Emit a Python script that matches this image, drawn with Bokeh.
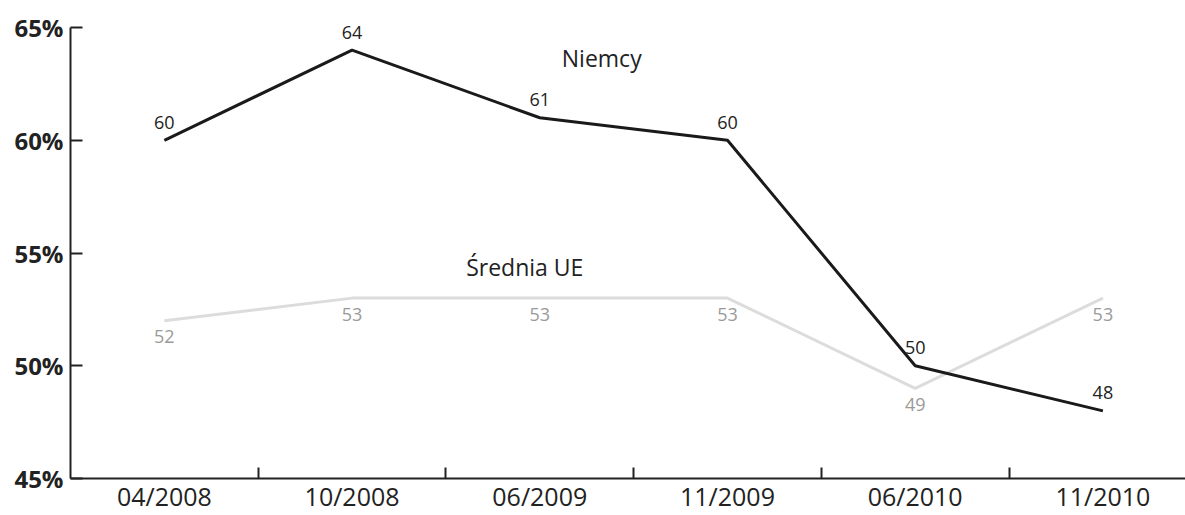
from bokeh.plotting import figure
from bokeh.models import ColumnDataSource, FixedTicker, Range1d, Label, LabelSet
from bokeh.core.properties import value
from bokeh.embed import file_html
from bokeh.resources import INLINE

categories = ["04/2008", "10/2008", "06/2009", "11/2009", "06/2010", "11/2010"]
niemcy = [60, 64, 61, 60, 50, 48]
srednia_ue = [52, 53, 53, 53, 49, 53]
y_ticks = [45, 50, 55, 60, 65]
y_tick_labels = ["45%", "50%", "55%", "60%", "65%"]

xs = list(range(len(categories)))
FONT = "Open Sans"

p = figure(width=1185, height=515, output_backend="svg", toolbar_location=None,
           x_range=Range1d(-0.5, 5.44), y_range=Range1d(45, 66.2),
           min_border_left=70, min_border_right=0, min_border_top=0, min_border_bottom=0)
p.outline_line_color = None
p.grid.visible = False
p.background_fill_color = "white"
p.border_fill_color = "white"

src_de = ColumnDataSource(dict(x=xs, y=niemcy, t=[str(v) for v in niemcy]))
src_eu = ColumnDataSource(dict(x=xs, y=srednia_ue, t=[str(v) for v in srednia_ue]))

p.line("x", "y", source=src_eu, line_color="#dcdcdc", line_width=3)
p.line("x", "y", source=src_de, line_color="#1a1a1a", line_width=3)

p.add_layout(LabelSet(x="x", y="y", text="t", source=src_de, text_font=value(FONT),
                      text_font_size="18px", text_color="#222222", text_align="center",
                      text_baseline="middle", y_offset=18))
p.add_layout(LabelSet(x="x", y="y", text="t", source=src_eu, text_font=value(FONT),
                      text_font_size="18px", text_color="#9a9a9a", text_align="center",
                      text_baseline="middle", y_offset=-16))

p.add_layout(Label(x=2.33, y=63.63, text="Niemcy", text_font=FONT, text_font_size="23px",
                   text_color="#222222", text_align="center", text_baseline="middle"))
p.add_layout(Label(x=1.92, y=54.36, text="Średnia UE", text_font=FONT, text_font_size="23px",
                   text_color="#222222", text_align="center", text_baseline="middle"))

# x axis
xa = p.xaxis[0]
xa.ticker = FixedTicker(ticks=xs, minor_ticks=[i + 0.5 for i in xs[:-1]])
xa.major_label_overrides = {i: c for i, c in enumerate(categories)}
xa.major_tick_in = 0
xa.major_tick_out = 0
xa.minor_tick_in = 11
xa.minor_tick_out = 0
xa.minor_tick_line_width = 2
xa.minor_tick_line_color = "#222222"
xa.axis_line_width = 2
xa.axis_line_color = "#222222"
xa.major_label_text_font = FONT
xa.major_label_text_font_size = "25px"
xa.major_label_text_color = "#222222"
xa.major_label_standoff = 0

# y axis
ya = p.yaxis[0]
ya.ticker = FixedTicker(ticks=y_ticks, minor_ticks=[])
ya.bounds = (45, 65)
ya.major_label_overrides = {t: l for t, l in zip(y_ticks, y_tick_labels)}
ya.major_tick_in = 12
ya.major_tick_out = 0
ya.major_tick_line_width = 2
ya.major_tick_line_color = "#222222"
ya.axis_line_width = 2
ya.axis_line_color = "#222222"
ya.major_label_text_font = FONT
ya.major_label_text_font_style = "bold"
ya.major_label_text_font_size = "24px"
ya.major_label_text_color = "#222222"
ya.major_label_standoff = 7

open("out.html", "w").write(file_html(p, INLINE))
